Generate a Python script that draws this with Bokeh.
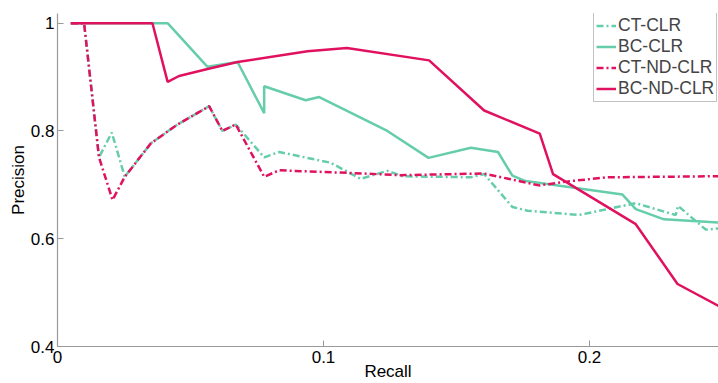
from bokeh.plotting import figure
from bokeh.models import Range1d, FixedTicker, Legend, LegendItem
from bokeh.embed import file_html
from bokeh.resources import INLINE

# ---- data ----
ct_clr_recall = [0.005, 0.010, 0.0156, 0.0204, 0.0253, 0.0351, 0.0451, 0.0570, 0.0620, 0.0670,
                 0.0777, 0.0833, 0.1027, 0.1140, 0.1240, 0.1297, 0.1554, 0.1604, 0.1710, 0.1767,
                 0.1960, 0.2174, 0.2324, 0.2333, 0.2437, 0.2486]
ct_clr_prec = [1.0, 1.0, 0.751, 0.797, 0.715, 0.777, 0.812, 0.846, 0.800, 0.812,
               0.751, 0.761, 0.741, 0.711, 0.726, 0.716, 0.714, 0.720, 0.659, 0.652,
               0.644, 0.666, 0.644, 0.661, 0.617, 0.619]

bc_clr_recall = [0.005, 0.0414, 0.0564, 0.0677, 0.0777, 0.0777, 0.0933, 0.0984, 0.1240, 0.1395,
                 0.1554, 0.1656, 0.1710, 0.1760, 0.2124, 0.2174, 0.2280, 0.2486]
bc_clr_prec = [1.0, 1.0, 0.919, 0.928, 0.833, 0.883, 0.857, 0.863, 0.800, 0.750,
               0.769, 0.761, 0.717, 0.707, 0.682, 0.655, 0.636, 0.630]

ct_nd_recall = [0.005, 0.010, 0.0156, 0.0207, 0.0253, 0.0351, 0.0451, 0.0570, 0.0620, 0.0670,
                0.0777, 0.0833, 0.1100, 0.1290, 0.1604, 0.1810, 0.1930, 0.2068, 0.2486]
ct_nd_prec = [1.0, 1.0, 0.751, 0.672, 0.715, 0.777, 0.812, 0.846, 0.800, 0.812,
              0.715, 0.727, 0.722, 0.718, 0.721, 0.699, 0.707, 0.714, 0.716]

bc_nd_recall = [0.005, 0.0357, 0.0414, 0.0457, 0.0564, 0.0677, 0.0940, 0.1088, 0.1397, 0.1604,
                0.1813, 0.1863, 0.2174, 0.2331, 0.2486]
bc_nd_prec = [1.0, 1.0, 0.891, 0.902, 0.915, 0.928, 0.948, 0.954, 0.931, 0.838,
              0.795, 0.720, 0.627, 0.516, 0.475]

series_names = ["CT-CLR", "BC-CLR", "CT-ND-CLR", "BC-ND-CLR"]
x_ticks = [0, 0.1, 0.2]
x_tick_labels = ["0", "0.1", "0.2"]
y_ticks = [0.4, 0.6, 0.8, 1.0]
y_tick_labels = ["0.4", "0.6", "0.8", "1"]

GREEN = "#66CDAA"
RED = "#E0115F"
FONT = "Liberation Sans"

p = figure(width=718, height=383, output_backend="svg", toolbar_location=None,
           x_range=Range1d(0, 0.2485), y_range=Range1d(0.4, 1.018),
           min_border_left=57, min_border_top=13, min_border_bottom=36, min_border_right=0)
p.outline_line_color = None
p.xgrid.visible = False
p.ygrid.visible = False
p.background_fill_color = "white"
p.border_fill_color = "white"

r1 = p.line(ct_clr_recall, ct_clr_prec, line_color=GREEN, line_width=2.5, line_dash="7 3 2 3")
r2 = p.line(bc_clr_recall, bc_clr_prec, line_color=GREEN, line_width=2.5)
r3 = p.line(ct_nd_recall, ct_nd_prec, line_color=RED, line_width=2.5, line_dash="7 3 2 3")
r4 = p.line(bc_nd_recall, bc_nd_prec, line_color=RED, line_width=2.5)

for ax in (p.xaxis[0], p.yaxis[0]):
    ax.axis_line_color = "#999999"
    ax.axis_line_width = 1.2
    ax.major_tick_line_color = "#999999"
    ax.major_tick_in = 6
    ax.major_tick_out = 0
    ax.minor_tick_line_color = None
    ax.major_label_text_font = FONT
    ax.major_label_text_font_size = "17px"
    ax.major_label_text_color = "black"
    ax.major_label_text_line_height = 1.0
    ax.axis_label_text_font = FONT
    ax.axis_label_text_font_size = "17px"
    ax.axis_label_text_font_style = "normal"
    ax.axis_label_text_color = "black"
    ax.axis_label_text_line_height = 1.0

p.xaxis.ticker = FixedTicker(ticks=x_ticks)
p.xaxis.major_label_overrides = {t: l for t, l in zip(x_ticks, x_tick_labels)}
p.xaxis.major_label_standoff = 4
p.xaxis.axis_label = "Recall"
p.xaxis.axis_label_standoff = -4
p.yaxis.ticker = FixedTicker(ticks=y_ticks)
p.yaxis.major_label_standoff = 3
p.yaxis.major_label_overrides = {t: l for t, l in zip(y_ticks, y_tick_labels)}
p.yaxis.axis_label = "Precision"
p.yaxis.axis_label_standoff = 0

legend = Legend(items=[LegendItem(label=n, renderers=[r]) for n, r in zip(series_names, [r1, r2, r3, r4])],
                location=(536, 244), padding=2, spacing=0, margin=0,
                label_height=21, glyph_height=21, glyph_width=20, label_standoff=2,
                label_text_font=FONT, label_text_font_size="17.5px",
                border_line_color="#888888", border_line_width=1.2,
                background_fill_alpha=1.0)
p.add_layout(legend)

open("out.html", "w").write(file_html(p, INLINE))
